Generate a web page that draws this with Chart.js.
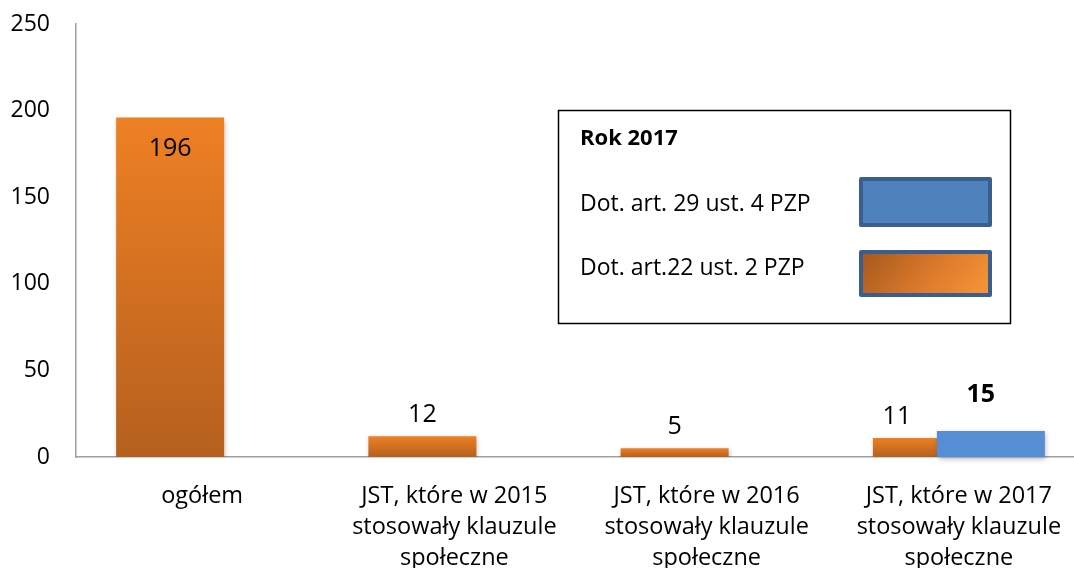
<!DOCTYPE html>
<html>
<head>
<meta charset="utf-8">
<script src="https://cdn.jsdelivr.net/npm/chart.js@4.4.1/dist/chart.umd.min.js"></script>
<style>
html,body{margin:0;padding:0;background:#fff;overflow:hidden;width:1074px;height:568px}
#wrap{position:absolute;left:0;top:0;width:1085px;height:568px}
</style>
</head>
<body>
<div id="wrap"><canvas id="c" width="1085" height="568"></canvas></div>
<script>
// ---- data ----
const categories = [
  ['ogółem'],
  ['JST, które w 2015', 'stosowały klauzule', 'społeczne'],
  ['JST, które w 2016', 'stosowały klauzule', 'społeczne'],
  ['JST, które w 2017', 'stosowały klauzule', 'społeczne']
];
const seriesArt22Name = 'Dot. art.22 ust. 2 PZP';
const seriesArt29Name = 'Dot. art. 29 ust. 4 PZP';
const seriesArt22 = [196, 12, 5, 11];
const seriesArt29 = [null, null, null, 15];
const yTickValues = [0, 50, 100, 150, 200, 250];
const legendTitle = 'Rok 2017';

// ---- styles ----
const FONT = '"Open Sans", "Noto Sans", sans-serif';
const orangeTop = '#EE8024', orangeBottom = '#B5601E';
const blueBar = '#558ED5';
const axisColor = '#A0A0A0';

function orangeGradient(ctx) {
  const chart = ctx.chart;
  const v = ctx.raw;
  if (!chart.chartArea || ctx.type !== 'data' || v == null) return orangeTop;
  const y = chart.scales.y;
  const g = chart.ctx.createLinearGradient(0, y.getPixelForValue(v), 0, y.getPixelForValue(0));
  g.addColorStop(0, orangeTop);
  g.addColorStop(1, orangeBottom);
  return g;
}

const customPlugin = {
  id: 'custom',
  beforeDatasetsDraw(chart) {
    const c = chart.ctx;
    c.save();
    c.shadowColor = 'rgba(0,0,0,0.28)';
    c.shadowBlur = 5;
    c.shadowOffsetX = 1;
    c.shadowOffsetY = 2;
  },
  beforeDatasetDraw(chart, args) {
    // blue series is drawn later so it lies on top of the orange one
    if (args.index === 1 && !chart.$lateDraw) return false;
  },
  afterDatasetsDraw(chart) {
    chart.$lateDraw = true;
    const meta = chart.getDatasetMeta(1);
    if (meta && meta.controller) meta.controller.draw();
    chart.$lateDraw = false;
    const c = chart.ctx;
    c.restore();

    // value labels
    const ds = chart.data.datasets;
    c.save();
    c.fillStyle = '#000';
    c.textAlign = 'center';
    c.textBaseline = 'middle';
    ds.forEach((d, i) => {
      const m = chart.getDatasetMeta(i);
      m.data.forEach((bar, j) => {
        const v = d.data[j];
        if (v == null) return;
        const overlap = ds.filter(dd => dd.data[j] != null).length > 1;
        const x = bar.x + (overlap ? (i === 0 ? -30 : -10) : 0);
        const h = bar.base - bar.y;
        const y = h > 60 ? bar.y + 31 : bar.y - (i === 1 ? 36 : 21);
        c.font = (i === 1 ? 'bold ' : '') + '25px ' + FONT;
        c.fillText(String(v), x, y);
      });
    });
    c.restore();
  },
  afterDraw(chart) {
    const c = chart.ctx;
    const ds = chart.data.datasets;
    c.save();
    // legend box
    c.strokeStyle = '#000';
    c.lineWidth = 1.5;
    c.strokeRect(558.5, 110.5, 452, 213);
    c.fillStyle = '#000';
    c.textAlign = 'left';
    c.textBaseline = 'middle';
    c.font = 'bold 22px ' + FONT;
    c.fillText(legendTitle, 580, 139);
    c.font = '23px ' + FONT;
    c.fillText(ds[1].label, 580, 204);
    c.fillText(ds[0].label, 580, 268);

    // swatches
    c.lineWidth = 4;
    c.strokeStyle = '#3A5F8E';
    c.lineJoin = 'round';
    c.fillStyle = '#4F81BD';
    c.beginPath();
    c.rect(861, 179, 129, 46);
    c.fill();
    c.stroke();
    const g = c.createLinearGradient(861, 252, 960, 330);
    g.addColorStop(0, '#A3581D');
    g.addColorStop(0.5, '#D8772A');
    g.addColorStop(1, '#F79636');
    c.fillStyle = g;
    c.beginPath();
    c.rect(861, 252, 129, 43);
    c.fill();
    c.stroke();
    c.restore();
  }
};

new Chart(document.getElementById('c'), {
  type: 'bar',
  data: {
    labels: categories,
    datasets: [
      {
        label: seriesArt22Name,
        data: seriesArt22,
        backgroundColor: orangeGradient,
        borderWidth: 0,
        categoryPercentage: 0.5074,
        barPercentage: 1.6875
      },
      {
        label: seriesArt29Name,
        data: seriesArt29,
        backgroundColor: blueBar,
        borderWidth: 0,
        categoryPercentage: 0.5074,
        barPercentage: 1.6875
      }
    ]
  },
  options: {
    responsive: false,
    animation: false,
    events: [],
    layout: { padding: { top: 24, right: 0, bottom: 0, left: 0 } },
    plugins: {
      legend: { display: false },
      tooltip: { enabled: false }
    },
    scales: {
      x: {
        grid: { display: false, drawTicks: false },
        border: { display: true, color: axisColor, width: 1.5 },
        ticks: {
          color: '#000',
          font: { family: FONT, size: 23.5, lineHeight: 1.32 },
          padding: 24,
          maxRotation: 0,
          minRotation: 0,
          autoSkip: false
        },
        afterFit(s) { s.height = 111; s.paddingLeft = 0; s.paddingRight = 0; }
      },
      y: {
        min: 0,
        max: 250,
        afterBuildTicks(s) { s.ticks = yTickValues.map(v => ({ value: v })); },
        grid: { display: false, drawTicks: false },
        border: { display: true, color: axisColor, width: 1.5 },
        ticks: {
          color: '#000',
          font: { family: FONT, size: 23 },
          padding: 26
        },
        afterFit(s) { s.width = 76; s.paddingTop = 0; s.paddingBottom = 0; }
      }
    }
  },
  plugins: [customPlugin]
});
</script>
</body>
</html>
